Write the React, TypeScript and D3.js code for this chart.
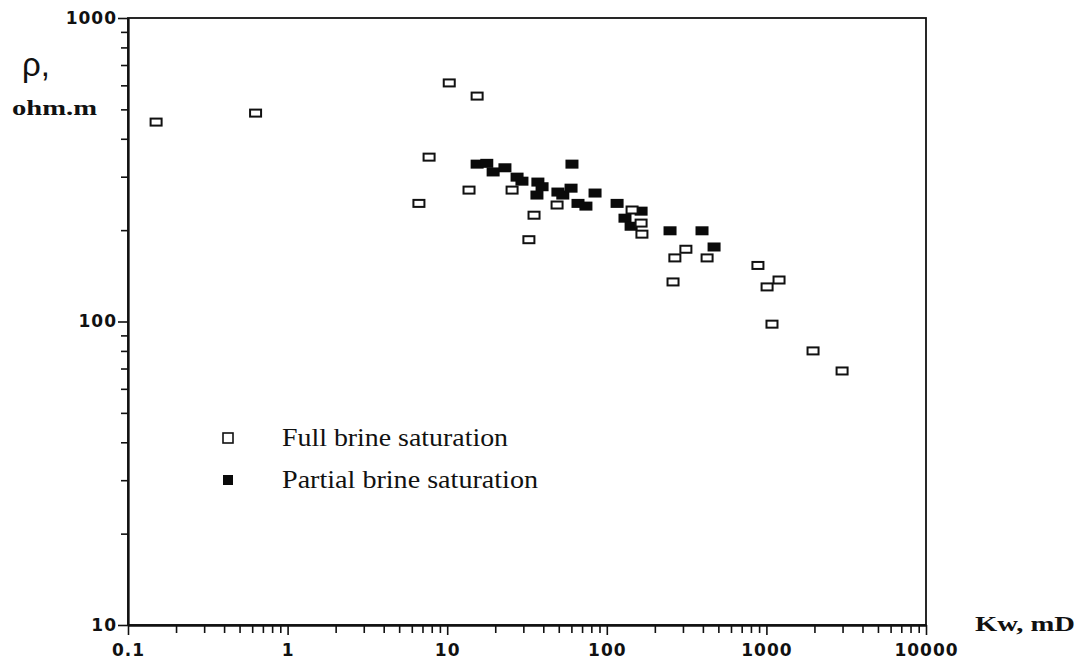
import React, { useRef, useEffect } from 'react';
import * as d3 from 'd3';

// open squares: full brine saturation
const fullK = [0.15, 0.63, 10.3, 15.4, 7.7, 6.65, 13.7, 25.5, 35, 32.5, 48.8, 144, 164, 166, 267, 313, 425, 260, 885, 1010, 1200, 1084, 1960, 2980];
const fullRho = [454, 486, 611, 553, 348, 245, 271, 271, 224, 186, 242, 233, 211, 194, 162, 173, 162, 135, 153, 130, 137, 98, 80, 68.7];

// filled squares: partial brine saturation
const partialK = [15.4, 17.7, 19.4, 23, 27.4, 29.4, 37, 39.3, 36.5, 60.5, 49.4, 53, 59.7, 66, 74, 84.4, 116, 130, 142, 164, 249, 395, 470];
const partialRho = [330, 332, 311, 321, 299, 290, 288, 278, 261, 330, 267, 261, 275, 245, 240, 265, 245, 219, 206, 231, 199, 199, 176];

const xMajor = [0.1, 1, 10, 100, 1000, 10000];
const xLabels = ['0.1', '1', '10', '100', '1000', '10000'];
const yMajor = [10, 100, 1000];
const yLabels = ['10', '100', '1000'];

const legendItems = ['Full brine saturation', 'Partial brine saturation'];

const serif = '"Liberation Serif", "Times New Roman", Times, serif';

const minorsOf = (decades: number[]) => {
  const out: number[] = [];
  decades.slice(0, -1).forEach(d => {
    for (let i = 2; i <= 9; i++) out.push(d * i);
  });
  return out;
};

const App = () => {
  const ref = useRef<SVGSVGElement>(null);

  useEffect(() => {
    if (!ref.current) return;
    const svg = d3.select(ref.current);
    svg.selectAll('*').remove();

    const left = 128, right = 926, top = 18, bottom = 625;

    const x = d3.scaleLog().domain([0.1, 10000]).range([left, right]);
    const y = d3.scaleLog().domain([10, 1000]).range([bottom, top]);

    // frame
    svg.append('rect')
      .attr('x', left).attr('y', top)
      .attr('width', right - left).attr('height', bottom - top)
      .attr('fill', 'none').attr('stroke', '#111').attr('stroke-width', 1.8);

    // minor ticks
    const xMinor = svg.append('g')
      .attr('transform', `translate(0,${bottom})`)
      .call(d3.axisBottom(x).tickValues(minorsOf(xMajor)).tickSize(8).tickSizeOuter(0).tickFormat(() => ''));
    const yMinor = svg.append('g')
      .attr('transform', `translate(${left},0)`)
      .call(d3.axisLeft(y).tickValues(minorsOf(yMajor)).tickSize(7).tickSizeOuter(0).tickFormat(() => ''));

    // major ticks + labels
    const xAxis = svg.append('g')
      .attr('transform', `translate(0,${bottom})`)
      .call(d3.axisBottom(x).tickValues(xMajor).tickSize(10).tickSizeOuter(0).tickPadding(9)
        .tickFormat((d, i) => xLabels[i]));
    const yAxis = svg.append('g')
      .attr('transform', `translate(${left},0)`)
      .call(d3.axisLeft(y).tickValues(yMajor).tickSize(10).tickSizeOuter(0).tickPadding(1)
        .tickFormat((d, i) => yLabels[i]));

    [xMinor, yMinor, xAxis, yAxis].forEach(g => {
      g.select('.domain').attr('stroke', '#111').attr('stroke-width', 1.8);
      g.selectAll('.tick line').attr('stroke', '#111').attr('stroke-width', 1.6);
      g.selectAll('.tick text')
        .attr('fill', '#111')
        .style('font-family', '"DejaVu Sans", sans-serif')
        .style('font-weight', 'bold')
        .style('font-size', '17px')
        .style('letter-spacing', '1px');
    });

    // points
    const w = 12, h = 8;
    svg.append('g')
      .selectAll('rect')
      .data(partialK.map((k, i) => ({ k, r: partialRho[i] })))
      .enter()
      .append('rect')
      .attr('x', d => x(d.k) - (w + 1) / 2)
      .attr('y', d => y(d.r) - (h + 1) / 2)
      .attr('width', w + 1)
      .attr('height', h + 1)
      .attr('fill', '#0a0a0a');

    svg.append('g')
      .selectAll('rect')
      .data(fullK.map((k, i) => ({ k, r: fullRho[i] })))
      .enter()
      .append('rect')
      .attr('x', d => x(d.k) - (w - 1) / 2)
      .attr('y', d => y(d.r) - (h - 1) / 2)
      .attr('width', w - 1)
      .attr('height', h - 1)
      .attr('fill', '#fff')
      .attr('stroke', '#111')
      .attr('stroke-width', 2);

    // legend
    const legend = svg.append('g');
    legendItems.forEach((label, i) => {
      const cy = 438 + i * 42;
      legend.append('rect')
        .attr('x', 223).attr('y', cy - 5)
        .attr('width', 10).attr('height', 10)
        .attr('fill', i === 0 ? '#fff' : '#0a0a0a')
        .attr('stroke', '#111').attr('stroke-width', i === 0 ? 1.6 : 0);
      legend.append('text')
        .attr('x', 282).attr('y', cy + 8)
        .attr('textLength', i === 0 ? 226 : 256)
        .attr('lengthAdjust', 'spacingAndGlyphs')
        .style('font-family', serif)
        .style('font-size', '26px')
        .attr('fill', '#111')
        .text(label);
    });

    // axis titles
    svg.append('text')
      .attr('x', 22).attr('y', 76)
      .style('font-family', '"Liberation Sans", sans-serif')
      .style('font-size', '33px')
      .attr('fill', '#111')
      .text('ρ,');
    svg.append('text')
      .attr('x', 12).attr('y', 115)
      .attr('textLength', 85)
      .attr('lengthAdjust', 'spacingAndGlyphs')
      .style('font-family', serif)
      .style('font-weight', 'bold')
      .style('font-size', '22px')
      .attr('fill', '#111')
      .text('ohm.m');
    svg.append('text')
      .attr('x', 975).attr('y', 631)
      .attr('textLength', 100)
      .attr('lengthAdjust', 'spacingAndGlyphs')
      .style('font-family', serif)
      .style('font-weight', 'bold')
      .style('font-size', '22px')
      .attr('fill', '#111')
      .text('Kw, mD');
  }, []);

  return (
    <svg ref={ref} width={1088} height={665}
      style={{ position: 'absolute', left: 0, top: 0, background: '#fff' }} />
  );
};

export default App;
